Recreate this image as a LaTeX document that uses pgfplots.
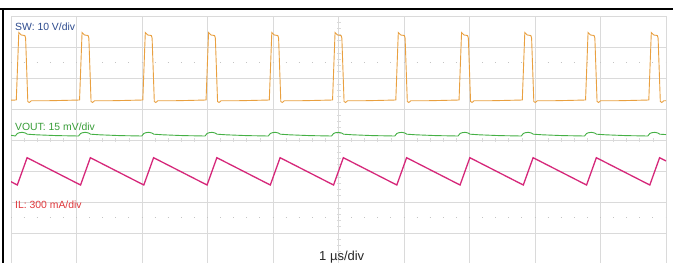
\documentclass[border=0pt]{standalone}
\usepackage{pgfplots}
\pgfplotsset{compat=1.18}
\usepackage{fontspec}
\setmainfont{Liberation Sans}
\definecolor{gridgray}{HTML}{DADADA}
\definecolor{dotgray}{HTML}{C4C4C4}
\definecolor{swcol}{HTML}{E9A040}
\definecolor{swlab}{HTML}{2D4B8E}
\definecolor{vcol}{HTML}{45B045}
\definecolor{vlab}{HTML}{3A9E3A}
\definecolor{ilcol}{HTML}{D6287A}
\definecolor{illab}{HTML}{E0383C}
\begin{document}
\begin{tikzpicture}
\fill[white] (0,0) rectangle (674bp,263bp);
\begin{axis}[
  at={(11bp,-1bp)}, anchor=south west,
  scale only axis, width=655bp, height=248bp,
  xmin=0, xmax=10, ymin=-4, ymax=4,
  xtick={0,...,10}, ytick={-4,...,4},
  xticklabels={}, yticklabels={},
  major tick length=0pt,
  grid=major,
  grid style={draw=gridgray, line width=0.7bp},
  axis line style={draw=gridgray, line width=0.7bp},
  clip=true,
]
% dotted reference rows
\draw[dotgray, line width=1.2bp, dash pattern=on 1bp off 12.1bp, dash phase=0.5bp] (axis cs:0,2.5) -- (axis cs:10,2.5);
\draw[dotgray, line width=1.2bp, dash pattern=on 1bp off 12.1bp, dash phase=0.5bp] (axis cs:0,-2.5) -- (axis cs:10,-2.5);
% centre line ticks
\draw[gridgray, line width=4bp, dash pattern=on 0.7bp off 12.4bp, dash phase=0.35bp] (axis cs:0,0) -- (axis cs:10,0);
\draw[gridgray, line width=4bp, dash pattern=on 0.7bp off 5.5bp, dash phase=0.35bp] (axis cs:5,-4) -- (axis cs:5,4);
% SW
\addplot[swcol, line width=0.9bp] coordinates {
(0,1.285)
(0.0809,1.290) (0.1191,3.468) (0.1343,3.435) (0.1572,3.387) (0.2107,3.371) (0.2229,3.290) (0.2565,1.242) (0.2794,1.210) (0.3099,1.265) (0.6153,1.268)
(1.0466,1.290) (1.0848,3.468) (1.1000,3.435) (1.1229,3.387) (1.1764,3.371) (1.1886,3.290) (1.2222,1.242) (1.2451,1.210) (1.2756,1.265) (1.5810,1.268)
(2.0122,1.290) (2.0504,3.468) (2.0656,3.435) (2.0885,3.387) (2.1420,3.371) (2.1542,3.290) (2.1878,1.242) (2.2107,1.210) (2.2412,1.265) (2.5466,1.268)
(2.9779,1.290) (3.0161,3.468) (3.0313,3.435) (3.0542,3.387) (3.1077,3.371) (3.1199,3.290) (3.1535,1.242) (3.1764,1.210) (3.2069,1.265) (3.5123,1.268)
(3.9435,1.290) (3.9817,3.468) (3.9969,3.435) (4.0198,3.387) (4.0733,3.371) (4.0855,3.290) (4.1191,1.242) (4.1420,1.210) (4.1725,1.265) (4.4779,1.268)
(4.9092,1.290) (4.9474,3.468) (4.9626,3.435) (4.9855,3.387) (5.0390,3.371) (5.0512,3.290) (5.0848,1.242) (5.1077,1.210) (5.1382,1.265) (5.4436,1.268)
(5.8748,1.290) (5.9130,3.468) (5.9282,3.435) (5.9511,3.387) (6.0046,3.371) (6.0168,3.290) (6.0504,1.242) (6.0733,1.210) (6.1038,1.265) (6.4092,1.268)
(6.8405,1.290) (6.8787,3.468) (6.8939,3.435) (6.9168,3.387) (6.9703,3.371) (6.9825,3.290) (7.0161,1.242) (7.0390,1.210) (7.0695,1.265) (7.3749,1.268)
(7.8061,1.290) (7.8443,3.468) (7.8595,3.435) (7.8824,3.387) (7.9359,3.371) (7.9481,3.290) (7.9817,1.242) (8.0046,1.210) (8.0351,1.265) (8.3405,1.268)
(8.7718,1.290) (8.8100,3.468) (8.8252,3.435) (8.8481,3.387) (8.9016,3.371) (8.9138,3.290) (8.9474,1.242) (8.9703,1.210) (9.0008,1.265) (9.3062,1.268)
(9.7374,1.290) (9.7756,3.468) (9.7908,3.435) (9.8137,3.387) (9.8672,3.371) (9.8794,3.290) (9.9130,1.242) (9.9359,1.210) (9.9664,1.265) (10,1.268)
};
% VOUT
\addplot[vcol, line width=0.9bp] coordinates {
(0,0.152)
(0.0656,0.129) (0.0962,0.210) (0.1267,0.235) (0.1725,0.248) (0.2183,0.226) (0.2488,0.187) (0.3862,0.168) (0.6916,0.142)
(1.0313,0.129) (1.0619,0.210) (1.0924,0.235) (1.1382,0.248) (1.1840,0.226) (1.2145,0.187) (1.3519,0.168) (1.6573,0.142)
(1.9969,0.129) (2.0275,0.210) (2.0580,0.235) (2.1038,0.248) (2.1496,0.226) (2.1801,0.187) (2.3175,0.168) (2.6229,0.142)
(2.9626,0.129) (2.9932,0.210) (3.0237,0.235) (3.0695,0.248) (3.1153,0.226) (3.1458,0.187) (3.2832,0.168) (3.5886,0.142)
(3.9282,0.129) (3.9588,0.210) (3.9893,0.235) (4.0351,0.248) (4.0809,0.226) (4.1114,0.187) (4.2488,0.168) (4.5542,0.142)
(4.8939,0.129) (4.9245,0.210) (4.9550,0.235) (5.0008,0.248) (5.0466,0.226) (5.0771,0.187) (5.2145,0.168) (5.5199,0.142)
(5.8595,0.129) (5.8901,0.210) (5.9206,0.235) (5.9664,0.248) (6.0122,0.226) (6.0427,0.187) (6.1801,0.168) (6.4855,0.142)
(6.8252,0.129) (6.8558,0.210) (6.8863,0.235) (6.9321,0.248) (6.9779,0.226) (7.0084,0.187) (7.1458,0.168) (7.4512,0.142)
(7.7908,0.129) (7.8214,0.210) (7.8519,0.235) (7.8977,0.248) (7.9435,0.226) (7.9740,0.187) (8.1114,0.168) (8.4168,0.142)
(8.7565,0.129) (8.7871,0.210) (8.8176,0.235) (8.8634,0.248) (8.9092,0.226) (8.9397,0.187) (9.0771,0.168) (9.3825,0.142)
(9.7221,0.129) (9.7527,0.210) (9.7832,0.235) (9.8290,0.248) (9.8748,0.226) (9.9053,0.187) (10,0.175)
};
% IL
\addplot[ilcol, line width=1.3bp] coordinates {
(0,-1.345)
(0.0962,-1.452) (0.2458,-0.571) (1.0619,-1.452) (1.2115,-0.571)
(2.0275,-1.452) (2.1771,-0.571) (2.9932,-1.452) (3.1428,-0.571)
(3.9588,-1.452) (4.1084,-0.571) (4.9245,-1.452) (5.0741,-0.571)
(5.8901,-1.452) (6.0397,-0.571) (6.8558,-1.452) (7.0054,-0.571)
(7.8214,-1.452) (7.9710,-0.571) (8.7871,-1.452) (8.9367,-0.571)
(9.7527,-1.452) (9.9023,-0.571) (10,-0.676)
};
\end{axis}
% frame
\draw[black, line width=1.3bp] (0,254bp) -- (673bp,254bp);
\draw[black, line width=1.3bp] (3bp,254bp) -- (3bp,0);
% labels
\node[anchor=base west, inner sep=0pt, text=swlab, font=\fontsize{10.4bp}{12bp}\selectfont] at (15bp,232.3bp) {SW: 10 V/div};
\node[anchor=base west, inner sep=0pt, text=vlab, font=\fontsize{10.4bp}{12bp}\selectfont] at (15bp,132.5bp) {VOUT: 15 mV/div};
\node[anchor=base west, inner sep=0pt, text=illab, font=\fontsize{10.4bp}{12bp}\selectfont] at (15bp,54bp) {IL: 300 mA/div};
\node[anchor=base west, inner sep=0pt, text=black!85, font=\fontsize{13bp}{15bp}\selectfont] at (319bp,3bp) {1 µs/div};
\pgfresetboundingbox
\path[use as bounding box] (0,0) rectangle (674bp,263bp);
\end{tikzpicture}
\end{document}
